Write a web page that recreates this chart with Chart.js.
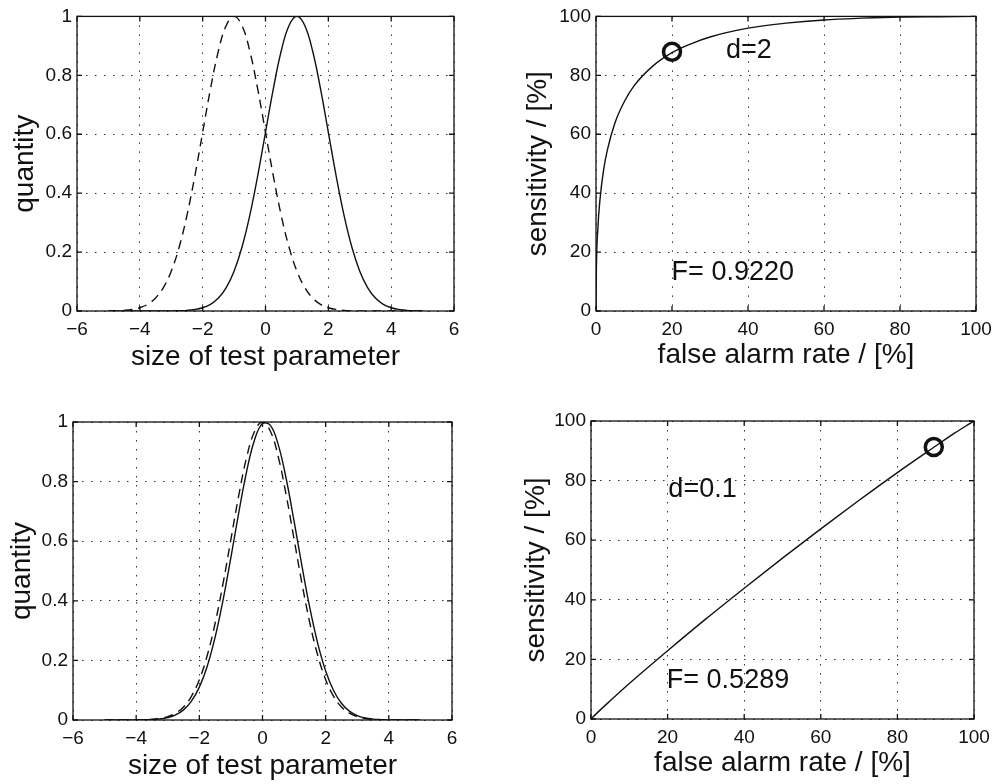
<!DOCTYPE html>
<html>
<head>
<meta charset="utf-8">
<script src="https://cdn.jsdelivr.net/npm/chart.js@4.4.1/dist/chart.umd.min.js"></script>
<style>
  html, body { margin: 0; padding: 0; background: #fff; overflow: hidden; }
  #wrap { position: relative; width: 992px; height: 784px; overflow: hidden; background: #fff; }
  canvas { position: absolute; }
</style>
</head>
<body>
<div id="wrap">
  <canvas id="tl" width="496" height="392" style="left:0;top:0"></canvas>
  <canvas id="tr" width="520" height="392" style="left:496px;top:0"></canvas>
  <canvas id="bl" width="496" height="392" style="left:0;top:392px"></canvas>
  <canvas id="br" width="520" height="392" style="left:496px;top:392px"></canvas>
</div>
<script>
/* ---------- data ---------- */

// test parameter axis (shared by both distribution panels)
const paramX = [-5, -4.75, -4.5, -4.25, -4, -3.75, -3.5, -3.25, -3, -2.75, -2.5, -2.25, -2, -1.75, -1.5, -1.25,
  -1, -0.75, -0.5, -0.25, 0, 0.25, 0.5, 0.75, 1, 1.25, 1.5, 1.75, 2, 2.25, 2.5, 2.75, 3, 3.25, 3.5, 3.75,
  4, 4.25, 4.5, 4.75, 5];

// d = 2 : dashed (healthy) and solid (diseased) distributions
const healthyD2 = [0.0003, 0.0009, 0.0022, 0.0051, 0.0111, 0.0228, 0.0439, 0.0796, 0.1353, 0.2163, 0.3247, 0.4578,
  0.6065, 0.7548, 0.8825, 0.9692, 1, 0.9692, 0.8825, 0.7548, 0.6065, 0.4578, 0.3247, 0.2163, 0.1353, 0.0796,
  0.0439, 0.0228, 0.0111, 0.0051, 0.0022, 0.0009, 0.0003, 0.0001, 0, 0, 0, 0, 0, 0, 0];
const sickD2 = [0, 0, 0, 0, 0, 0, 0, 0.0001, 0.0003, 0.0009, 0.0022, 0.0051, 0.0111, 0.0228, 0.0439, 0.0796,
  0.1353, 0.2163, 0.3247, 0.4578, 0.6065, 0.7548, 0.8825, 0.9692, 1, 0.9692, 0.8825, 0.7548, 0.6065, 0.4578,
  0.3247, 0.2163, 0.1353, 0.0796, 0.0439, 0.0228, 0.0111, 0.0051, 0.0022, 0.0009, 0.0003];

// d = 0.1 : nearly coincident distributions
const healthyD01 = [0, 0, 0, 0.0001, 0.0003, 0.0009, 0.0022, 0.0051, 0.0111, 0.0228, 0.0439, 0.0796, 0.1353,
  0.2163, 0.3247, 0.4578, 0.6065, 0.7548, 0.8825, 0.9692, 1, 0.9692, 0.8825, 0.7548, 0.6065, 0.4578, 0.3247,
  0.2163, 0.1353, 0.0796, 0.0439, 0.0228, 0.0111, 0.0051, 0.0022, 0.0009, 0.0003, 0.0001, 0, 0, 0];
const sickD01 = [0, 0, 0, 0.0001, 0.0002, 0.0006, 0.0015, 0.0037, 0.0082, 0.0172, 0.0340, 0.0632, 0.1103,
  0.1806, 0.2780, 0.4020, 0.5461, 0.6968, 0.8353, 0.9406, 0.9950, 0.9888, 0.9231, 0.8096, 0.6670, 0.5162,
  0.3753, 0.2564, 0.1645, 0.0992, 0.0561, 0.0299, 0.0149, 0.0070, 0.0031, 0.0013, 0.0005, 0.0002, 0.0001, 0, 0];

// ROC curves: false alarm rate [%] -> sensitivity [%]
const rocFarD2  = [0, 0.1, 0.5, 1, 2, 3, 5, 7.5, 10, 15, 20, 25, 30, 40, 50, 60, 70, 80, 90, 100];
const rocSensD2 = [0, 13.8, 28.2, 37.2, 47.9, 54.7, 63.9, 71.2, 76.4, 83.2, 87.7, 90.7, 93.0, 96.0, 97.7, 98.8,
  99.4, 99.8, 99.9, 100];
const rocFarD01  = [0, 1, 5, 10, 20, 30, 40, 50, 60, 70, 80, 90, 95, 99, 100];
const rocSensD01 = [0, 1.3, 6.1, 11.9, 22.9, 33.6, 43.9, 54.0, 63.8, 73.4, 82.7, 91.6, 96.0, 99.2, 100];

// operating points (circles)
const opPointD2  = [20, 88];
const opPointD01 = [89.5, 91.3];

// axis ticks
const paramTicks = [-6, -4, -2, 0, 2, 4, 6];
const quantityTicks = [0, 0.2, 0.4, 0.6, 0.8, 1];
const percentTicks = [0, 20, 40, 60, 80, 100];

/* ---------- drawing ---------- */
(() => {
  Chart.defaults.font.family = "'Liberation Sans', Arial, Helvetica, sans-serif";
  Chart.defaults.color = '#111';

  const INK = '#111';
  const TICK_LEN = 5;

  const pts = (xs, ys) => xs.map((x, i) => ({ x, y: ys[i] }));
  const fmt = v => (v < 0 ? '\u2212' + (-v) : String(Math.round(v * 100) / 100));

  // bell curves get a plain bezier (smooth peak), ROC curves a monotone one (no overshoot past 100)
  function curve(xs, ys, dashed, monotone) {
    return {
      data: pts(xs, ys),
      showLine: true,
      borderColor: INK,
      borderWidth: 1.4,
      borderDash: dashed ? [9, 6] : [],
      pointRadius: 0,
      pointHoverRadius: 0,
      cubicInterpolationMode: monotone ? 'monotone' : 'default',
      tension: monotone ? 0 : 0.4,
      fill: false
    };
  }

  function marker(p) {
    return {
      data: [{ x: p[0], y: p[1] }],
      showLine: false,
      pointRadius: 8.5,
      pointHoverRadius: 8.5,
      pointBorderWidth: 3.5,
      pointBorderColor: INK,
      pointBackgroundColor: 'rgba(0,0,0,0)'
    };
  }

  /* MATLAB-like box: full frame, inward tick marks, free text notes */
  const axesBox = {
    id: 'axesBox',
    afterDatasetsDraw(chart, args, opts) {
      const { ctx, chartArea: a, scales: { x, y } } = chart;
      ctx.save();
      ctx.strokeStyle = INK;
      ctx.lineWidth = 1.3;
      ctx.beginPath();
      x.ticks.forEach(t => {
        const px = x.getPixelForValue(t.value);
        ctx.moveTo(px, a.bottom); ctx.lineTo(px, a.bottom - TICK_LEN);
        ctx.moveTo(px, a.top); ctx.lineTo(px, a.top + TICK_LEN);
      });
      y.ticks.forEach(t => {
        const py = y.getPixelForValue(t.value);
        ctx.moveTo(a.left, py); ctx.lineTo(a.left + TICK_LEN, py);
        ctx.moveTo(a.right, py); ctx.lineTo(a.right - TICK_LEN, py);
      });
      ctx.stroke();
      ctx.strokeRect(a.left, a.top, a.right - a.left, a.bottom - a.top);

      ctx.fillStyle = INK;
      ctx.font = "27px 'Liberation Sans', Arial, sans-serif";
      ctx.textAlign = 'left';
      ctx.textBaseline = 'alphabetic';
      (opts.notes || []).forEach(n => {
        ctx.fillText(n.text, x.getPixelForValue(n.x), y.getPixelForValue(n.y));
      });
      ctx.restore();
    }
  };

  function axis(ticks, title, titlePad, fitSize, horizontal) {
    return {
      type: 'linear',
      min: ticks[0],
      max: ticks[ticks.length - 1],
      afterBuildTicks: s => { s.ticks = ticks.map(v => ({ value: v })); },
      ticks: {
        padding: horizontal ? 7 : 5,
        font: { size: 19 },
        maxRotation: 0,
        autoSkip: false,
        callback: fmt
      },
      grid: { color: '#333', lineWidth: 1, drawTicks: false },
      border: { display: false, dash: [1.5, 7.5] },
      title: {
        display: true,
        text: title,
        font: { size: 28 },
        padding: horizontal ? { top: 0, bottom: titlePad } : { top: titlePad, bottom: 0 }
      },
      afterFit: s => { if (horizontal) s.height = fitSize; else s.width = fitSize; }
    };
  }

  function panel(id, p) {
    return new Chart(document.getElementById(id), {
      type: 'scatter',
      data: { datasets: p.datasets },
      options: {
        responsive: false,
        animation: false,
        events: [],
        layout: { padding: { left: 0, bottom: 0, top: p.box.top, right: p.box.right } },
        plugins: {
          legend: { display: false },
          tooltip: { enabled: false },
          axesBox: { notes: p.notes || [] }
        },
        scales: {
          x: axis(p.xTicks, p.xTitle, p.xTitlePad, p.box.xH, true),
          y: axis(p.yTicks, p.yTitle, p.yTitlePad, p.box.yW, false)
        }
      },
      plugins: [axesBox]
    });
  }

  panel('tl', {
    datasets: [curve(paramX, healthyD2, true, false), curve(paramX, sickD2, false, false)],
    xTicks: paramTicks, yTicks: quantityTicks,
    xTitle: 'size of test parameter', yTitle: 'quantity',
    xTitlePad: 18.4, yTitlePad: 8.3,
    box: { yW: 77, top: 13, right: 42, xH: 81 }
  });

  panel('tr', {
    datasets: [curve(rocFarD2, rocSensD2, false, true), marker(opPointD2)],
    xTicks: percentTicks, yTicks: percentTicks,
    xTitle: 'false alarm rate / [%]', yTitle: 'sensitivity / [%]',
    xTitlePad: 20, yTitlePad: 25.6,
    box: { yW: 100, top: 13, right: 40, xH: 81 },
    notes: [{ text: 'd=2', x: 34.2, y: 85.9 }, { text: 'F= 0.9220', x: 19.9, y: 10.6 }]
  });

  panel('bl', {
    datasets: [curve(paramX, healthyD01, true, false), curve(paramX, sickD01, false, false)],
    xTicks: paramTicks, yTicks: quantityTicks,
    xTitle: 'size of test parameter', yTitle: 'quantity',
    xTitlePad: 0.6, yTitlePad: 5,
    box: { yW: 73, top: 30, right: 44, xH: 64 }
  });

  panel('br', {
    datasets: [curve(rocFarD01, rocSensD01, false, true), marker(opPointD01)],
    xTicks: percentTicks, yTicks: percentTicks,
    xTitle: 'false alarm rate / [%]', yTitle: 'sensitivity / [%]',
    xTitlePad: 3.8, yTitlePad: 23.1,
    box: { yW: 95, top: 29, right: 42, xH: 65 },
    notes: [{ text: 'd=0.1', x: 20.2, y: 74.6 }, { text: 'F= 0.5289', x: 19.8, y: 10.5 }]
  });
})();
</script>
</body>
</html>
